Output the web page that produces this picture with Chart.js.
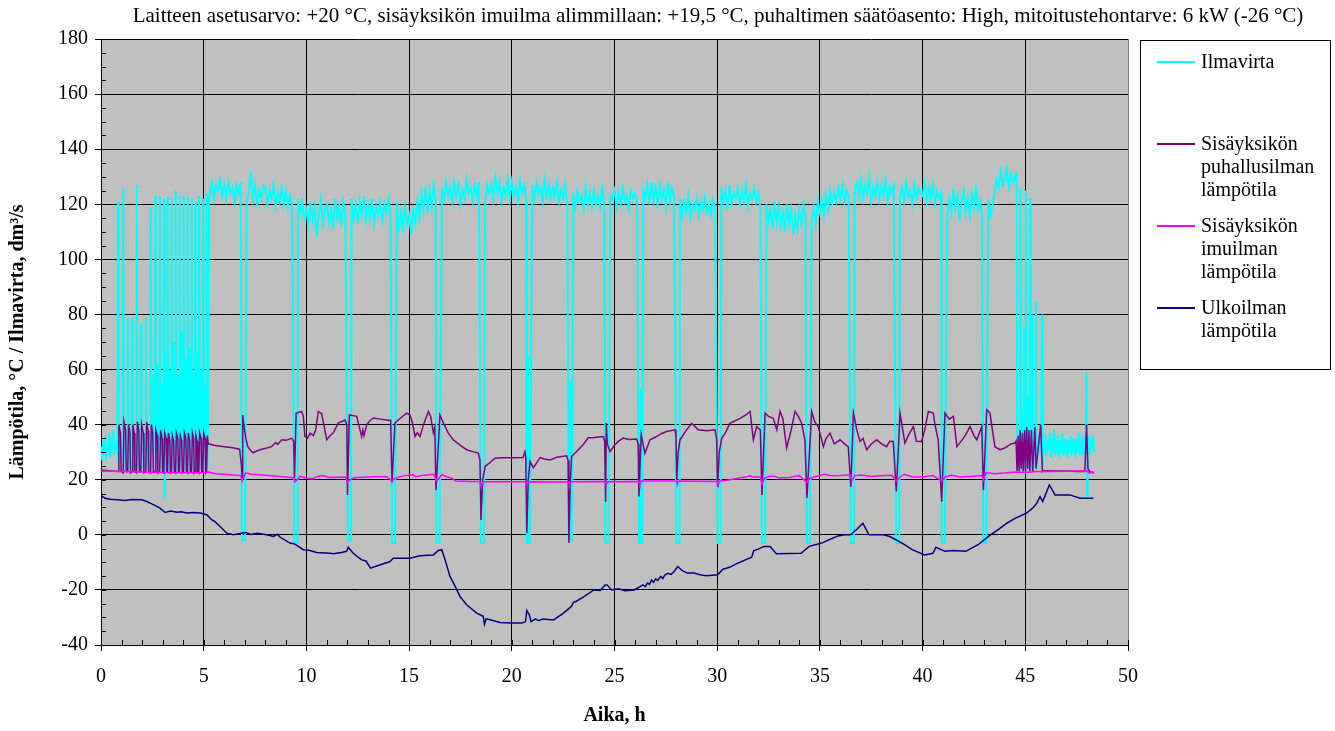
<!DOCTYPE html>
<html lang="fi">
<head>
<meta charset="utf-8">
<title>Ilmavirta ja lämpötilat</title>
<script src="https://cdn.jsdelivr.net/npm/chart.js@4.4.1/dist/chart.umd.min.js"></script>
<style>
  html, body { margin: 0; padding: 0; background: #fff; }
  #wrap { position: relative; width: 1335px; height: 731px; }
  #otsikko { position: absolute; left: 101px; width: 1234px; top: 3px; text-align: center;
             font: 21px "Times New Roman", "Liberation Serif", serif; white-space: nowrap; }
  #selite { position: absolute; left: 1140px; top: 40px; width: 191px; height: 330px;
            border: 1px solid #000; box-sizing: border-box; font: 20px "Times New Roman", "Liberation Serif", serif; }
  .rivi { position: absolute; left: 0; width: 100%; }
  .rivi i { position: absolute; left: 16px; top: 11px; width: 38px; height: 0; border-top: 2px solid; }
  .rivi span { position: absolute; left: 60px; top: 0; line-height: 23px; white-space: pre; }
</style>
</head>
<body>
<div id="wrap">
  <canvas id="kaavio"></canvas>
  <div id="otsikko"></div>
  <div id="selite"></div>
</div>
<script>
// Otsikko ja sarjojen nimet
const otsikko = 'Laitteen asetusarvo: +20 °C, sisäyksikön imuilma alimmillaan: +19,5 °C, puhaltimen säätöasento: High, mitoitustehontarve: 6 kW (-26 °C)';
const sarjaNimet = ['Ilmavirta', 'Sisäyksikön\npuhallusilman\nlämpötila', 'Sisäyksikön\nimuilman\nlämpötila', 'Ulkoilman\nlämpötila'];

// Ilmavirta, alku ja tahdistettu käynti (h, dm3/s)
const ilmavirtaAlku = [
  [0,32],[0.05,27],[0.1,34],[0.15,29],[0.2,36],[0.25,27],[0.3,33],[0.35,30],[0.4,37],[0.45,28],[0.5,35],[0.55,31],
  [0.6,38],[0.65,29],[0.7,34],[0.75,31],
  [0.8,30],[0.83,121],[0.86,24],[0.95,31],[1.0,28],[1.06,33],[1.09,126],[1.12,23],[1.2,30],[1.28,33],[1.31,79],[1.34,24],
  [1.42,31],[1.49,34],[1.52,79],[1.55,23],[1.64,32],[1.71,30],[1.74,127],[1.77,24],[1.86,33],[1.92,31],[1.95,77],[1.98,23],
  [2.08,32],[2.16,34],[2.19,79],[2.22,24],[2.3,33],[2.39,31],[2.42,119],[2.45,23],[2.53,58],[2.56,30],[2.61,35],[2.64,123],
  [2.67,22],[2.75,62],[2.78,31],[2.84,34],[2.87,123],[2.9,24],[2.97,55],[3.0,30],[3.04,33],[3.07,122],[3.1,13],[3.13,30],
  [3.16,66],[3.19,32],[3.22,34],[3.25,123],[3.28,23],[3.34,60],[3.37,31],[3.41,35],[3.44,122],[3.47,24],[3.53,70],[3.56,30],
  [3.61,34],[3.64,125],[3.67,22],[3.73,58],[3.76,32],[3.8,33],[3.83,123],[3.86,24],[3.93,74],[3.96,31],[4.0,35],[4.03,123],
  [4.06,23],[4.12,64],[4.15,30],[4.19,34],[4.22,123],[4.25,22],[4.32,68],[4.35,31],[4.39,33],[4.42,122],[4.45,24],[4.5,57],
  [4.53,32],[4.56,35],[4.59,121],[4.62,23],[4.68,66],[4.71,30],[4.74,34],[4.77,123],[4.8,24],[4.87,60],[4.9,31],[4.94,33],
  [4.97,122],[5.0,23],[5.06,54],[5.09,32],[5.12,35],[5.15,124],[5.18,25],[5.22,36],[5.26,123]
];

// Ilmavirta tasaisessa käynnissä, 0,1 h välein, rivi = tunti alkaen tunnista 5
const ilmavirtaAlkutunti = 5;
const ilmavirtaRivit = [
  [null,null,null,124,128,122,127,125,129,123],
  [127,122,128,124,126,121,127,124,128,125],
  [126,121,125,132,122,127,120,125,122,127],
  [126,120,125,122,127,119,124,121,126,120],
  [125,119,123,120,126,118,122,117,121,115],
  [118,112,121,114,119,108,116,122,113,118],
  [120,113,118,111,122,115,119,112,121,116],
  [119,114,122,115,120,113,121,116,123,114],
  [120,115,122,113,119,116,121,114,120,117],
  [122,116,120,114,121,110,117,111,119,113],
  [116,109,119,113,121,115,124,118,126,117],
  [125,119,127,121,124,120,126,122,128,123],
  [126,121,128,123,127,120,125,122,129,124],
  [126,121,127,123,128,122,126,120,127,124],
  [127,122,130,124,128,121,126,123,129,122],
  [128,123,126,121,129,124,127,122,126,123],
  [127,122,128,124,126,121,129,123,127,122],
  [126,123,128,121,125,122,127,120,124,121],
  [124,119,125,121,123,118,126,120,124,119],
  [125,120,123,119,126,121,124,120,123,122],
  [125,119,124,120,126,121,123,118,125,122],
  [124,121,126,119,125,122,127,120,128,121],
  [126,120,127,122,125,119,128,121,126,123],
  [124,118,122,116,121,117,123,115,120,118],
  [122,116,121,118,123,117,120,116,122,119],
  [124,119,126,121,125,118,127,120,124,122],
  [126,120,125,121,127,119,124,122,126,121],
  [124,119,117,112,120,114,118,111,121,113],
  [119,112,117,110,120,113,118,109,116,111],
  [118,113,120,115,111,118,114,119,113,121],
  [117,122,116,123,118,125,120,124,121,126],
  [122,127,121,125,123,127,121,126,128,123],
  [129,122,127,124,130,121,126,123,128,122],
  [127,123,129,121,126,124,128,122,127,123],
  [126,121,128,123,125,120,127,122,126,124],
  [123,128,121,126,122,127,120,125,122,124],
  [118,124,115,122,117,126,119,123,114,121],
  [125,117,122,116,124,119,127,118,121,116],
  [120,114,122,116,119,124,129,126,132,127],
  [129,133,126,131,128,130,null,null,null,null]
];

// Sulatukset: alkuaika (h), ilmavirran pohja ja mahdollinen välipiikki
const sulatusKesto = 0.15;
const sulatusAjat = [6.86, 9.42, 12.02, 14.17, 16.34, 18.5, 20.73, 22.78, 24.55, 26.2, 28.02, 30.02, 32.18, 34.37, 36.51, 38.71, 40.93, 42.95];
const sulatusPohjat = [-2, -3, -2, -3, -3, -3, -3, -2, -3, -3, -3, -3, -3, -3, -3, -3, -3, -3];
const sulatusValipiikit = [null, null, null, null, null, null, 65, 56, null, 53, null, null, null, null, null, null, null, null];

// Ilmavirta lopussa
const ilmavirtaLoppu = [
  [44.55,128],[44.58,132],[44.61,24],[44.68,35],[44.71,31],[44.74,80],[44.75,34],[44.77,126],[44.8,23],[44.86,45],
  [44.89,30],[44.92,34],[44.94,75],[44.97,24],[45.0,34],[45.03,125],[45.06,22],[45.12,50],[45.15,31],[45.2,33],
  [45.23,122],[45.26,24],[45.3,35],[45.36,80],[45.39,23],[45.46,37],[45.49,31],[45.52,85],[45.55,24],[45.65,34],
  [45.75,30],[45.83,80],[45.86,25],[45.9,33],
  [45.95,30],[46.0,36],[46.05,29],[46.1,34],[46.15,31],[46.2,37],[46.25,28],[46.3,35],[46.35,30],[46.4,38],[46.45,29],
  [46.5,33],[46.55,31],[46.6,36],[46.65,28],[46.7,34],[46.75,30],[46.8,37],[46.85,29],[46.9,33],[46.95,31],[47.0,35],
  [47.05,28],[47.1,34],[47.15,30],[47.2,36],[47.25,29],[47.3,33],[47.35,31],[47.4,35],[47.45,28],[47.5,34],[47.55,30],
  [47.6,37],[47.65,29],[47.7,33],[47.75,31],[47.8,36],[47.85,29],[47.9,34],[47.95,32],[47.98,59],[48.01,13],[48.04,31],
  [48.1,36],[48.15,29],[48.2,35],[48.25,31],[48.3,36],[48.35,30]
];

// Sisäyksikön puhallusilman lämpötila (h, °C)
const puhallusilma = [
  [0,23.5],[0.8,23],
  [0.83,23],[0.87,40],[0.95,37],[0.98,23],[1.08,22.5],[1.12,41],[1.2,38],[1.23,23],[1.3,23],[1.34,40],[1.41,37],[1.44,22.5],
  [1.51,23],[1.55,40],[1.62,37],[1.65,23],[1.73,22.5],[1.77,41],[1.84,38],[1.87,23],[1.94,23],[1.98,40],[2.06,37],[2.09,22.5],
  [2.18,23],[2.22,41],[2.29,38],[2.32,23],[2.41,22.5],[2.45,40],[2.52,37],[2.55,23],[2.63,23],[2.67,38],[2.74,36],[2.77,22.5],
  [2.86,23],[2.9,38],[2.97,35],[3.0,23],[3.06,22.5],[3.1,37],[3.17,35],[3.2,23],[3.24,23],[3.28,37],[3.35,34],[3.38,22.5],
  [3.43,23],[3.47,36],[3.54,34],[3.57,23],[3.63,22.5],[3.67,37],[3.74,35],[3.77,23],[3.82,23],[3.86,36],[3.93,34],[3.96,22.5],
  [4.02,23],[4.06,37],[4.13,35],[4.16,23],[4.21,22.5],[4.25,37],[4.32,34],[4.35,23],[4.41,23],[4.45,37],[4.51,35],[4.54,22.5],
  [4.58,23],[4.62,36],[4.68,34],[4.71,23],[4.76,22.5],[4.8,37],[4.87,35],[4.9,23],[4.96,23],[5.0,37],[5.07,35],[5.1,22.5],
  [5.14,23],[5.18,36],[5.22,33],
  [5.28,33],[5.5,32.5],[6.0,32],[6.5,31.5],[6.75,31],[6.84,25],[6.87,20.5],[6.9,43.5],[6.95,40],[7.05,35],[7.15,32],[7.25,31],
  [7.4,29.8],[7.6,30.5],[7.8,31],[8.07,31.5],[8.3,32],[8.5,33.5],[8.6,32.8],[8.8,34.5],[9.0,34.3],[9.28,35],[9.38,34],[9.42,20],
  [9.5,44.2],[9.77,44.8],[9.85,43],[9.93,35.7],[10.05,35],[10.18,36.9],[10.34,36],[10.45,38],[10.58,44.8],[10.74,44],[10.85,40],
  [10.99,34.5],[11.15,36],[11.31,37],[11.55,40.6],[11.88,41.7],[11.97,40],[12.0,14.5],[12.09,43.5],[12.45,43],[12.55,40],
  [12.69,35.7],[12.75,38],[12.8,36],[12.94,40],[13.1,41.5],[13.26,42.4],[13.6,42],[13.91,41.7],[14.1,41.5],[14.17,18.9],
  [14.31,40.6],[14.6,42.5],[14.88,44.2],[15.04,43.5],[15.15,41],[15.29,35.7],[15.4,37],[15.53,35.7],[15.7,40],[15.94,44.8],
  [16.05,43],[16.18,37],[16.25,39],[16.31,16.3],[16.5,43.5],[16.67,40.6],[16.9,37],[17.15,34.5],[17.5,32.5],[17.8,30.9],
  [18.1,30.2],[18.37,29.7],[18.45,27],[18.5,5.4],[18.58,20],[18.7,24.8],[18.9,26],[19.18,27.8],[19.5,28],[20.0,28],
  [20.55,28.1],[20.64,30.2],[20.68,28],[20.73,0.7],[20.8,20],[20.89,26.6],[21.05,24.3],[21.2,26],[21.37,28],[21.6,27.5],
  [21.86,27.2],[22.2,28.2],[22.67,28.7],[22.74,27],[22.78,-3],[22.84,18],[22.91,28.4],[23.24,30.9],[23.5,33],[23.72,35.2],
  [23.97,35.2],[24.2,35.5],[24.45,35.7],[24.52,34],[24.57,12],[24.6,40.6],[24.65,33],[24.78,30.2],[25.02,32.7],[25.2,34],
  [25.43,35.1],[25.7,34.6],[26.08,34.8],[26.15,33],[26.19,13.9],[26.3,36.3],[26.48,29.6],[26.73,34.5],[27.0,35.5],[27.3,36.8],
  [27.54,37.5],[27.95,38.1],[27.99,36],[28.03,20],[28.1,30],[28.19,34.5],[28.5,38],[28.76,40.5],[29.08,38.1],[29.5,37.8],
  [29.89,38.1],[29.97,35],[30.02,17.5],[30.1,30],[30.22,35.1],[30.4,37],[30.62,40.5],[31.11,42.3],[31.4,43.5],[31.6,44.8],
  [31.76,34.5],[31.92,39.3],[32.1,38],[32.18,14.5],[32.33,44.2],[32.5,43],[32.73,42.3],[32.9,38.1],[33.06,44.8],[33.2,42],
  [33.38,31.5],[33.6,38],[33.79,44.8],[33.95,43],[34.11,40.5],[34.27,34.5],[34.37,13.4],[34.6,44.8],[34.75,41],[34.92,39.3],
  [35.17,32],[35.3,35],[35.49,36.9],[35.7,33],[35.98,34.5],[36.2,33],[36.38,32],[36.51,17.5],[36.63,44.2],[36.8,38],
  [36.95,33.9],[37.1,35],[37.28,30.9],[37.5,33],[37.77,34.5],[38.0,33],[38.25,32],[38.4,34],[38.57,33.9],[38.72,15.7],
  [38.9,44.2],[39.14,33.3],[39.3,36],[39.55,39.3],[39.7,34],[39.95,33.9],[40.1,38],[40.28,44.8],[40.52,44.2],[40.6,40],
  [40.76,34.5],[40.93,12.1],[41.09,44.2],[41.3,42],[41.5,43],[41.67,32],[41.99,35.1],[42.15,37],[42.31,39.3],[42.5,36],
  [42.64,34.5],[42.88,39.3],[42.96,16.3],[43.12,45.4],[43.28,44.2],[43.4,38],[43.52,32],[43.77,30.9],[44.0,31.5],[44.3,33],
  [44.5,33.3],[44.55,34],[44.6,23],[44.65,36],[44.7,23],[44.75,38],[44.8,24],[44.86,37],[44.9,23],[44.97,38],[45.01,23],
  [45.07,39],[45.12,24],[45.18,38],[45.22,23],[45.3,38],[45.36,23],[45.47,39],[45.52,24],[45.75,40],[45.83,23],[45.9,23.3],
  [46.5,23.2],[47.0,23.2],[47.5,23],[47.9,23],[47.98,40],[48.05,24],[48.15,22.8],[48.35,22.5]
];

// Sisäyksikön imuilman lämpötila (h, °C)
const imuilma = [
  [0,23.2],[1,23],[2,22.8],[3,22.6],[4,22.5],[5,22.5],[5.25,22.8],[5.6,22.2],[6.3,21.8],[6.8,21.5],[6.87,19.5],[6.92,20.5],
  [7.05,22.5],[7.3,22],[8,21.6],[9,21],[9.38,20.7],[9.44,19.2],[9.55,20],[9.7,21.2],[10.0,20.6],[10.3,20.4],[10.6,21.3],
  [10.8,21.5],[11.1,20.8],[11.9,21],[12.0,19],[12.1,19.8],[12.3,20.7],[13,21],[13.9,21.2],[14.17,19.5],[14.3,20.5],[14.7,21.4],
  [15.2,21.8],[15.3,21.1],[15.7,21.6],[16.2,22],[16.34,19.5],[16.45,20.5],[16.6,21.8],[16.85,21],[17.1,20.5],[17.25,19.5],
  [18,19.4],[18.45,19.4],[18.5,17.5],[18.6,19.3],[20.7,19.3],[20.75,18],[20.8,19.3],[22.78,19.2],[22.8,17.6],[22.85,19.3],
  [24.55,19.4],[24.6,18],[24.65,19.3],[26.2,19.4],[26.24,18.3],[26.3,19.5],[28.02,19.5],[28.06,18.3],[28.1,19.5],[30.0,19.4],
  [30.05,17.8],[30.1,19.5],[30.5,19.8],[31.0,20.5],[31.5,21.2],[31.6,21.5],[31.7,21],[32.1,21],[32.18,18.5],[32.3,20.5],
  [32.5,21.2],[32.8,21.3],[33.0,20.6],[33.5,20.8],[34.0,21.5],[34.37,19],[34.5,20.5],[34.8,21.2],[35.2,22],[35.6,21.4],[36,21.5],
  [36.5,21.8],[36.55,19.5],[36.7,21.5],[37,21.7],[37.5,21.2],[38,21.4],[38.5,21.6],[38.72,19.5],[38.9,21],[39.1,22],[39.5,21],
  [40,21],[40.5,21.5],[40.93,19.5],[41.1,21],[41.4,21.6],[41.8,21],[42.3,21.2],[42.9,21.5],[42.96,19.8],[43.1,22.6],[43.5,22.2],
  [44,22.4],[44.5,22.8],[45,22.6],[45.5,23],[46,23],[47,23.1],[48,23.3],[48.1,22.5],[48.35,22.8]
];

// Ulkoilman lämpötila (h, °C)
const ulkoilma = [
  [0,14.2],[0.2,13.3],[0.44,12.9],[0.8,12.7],[1.17,12.5],[1.5,12.8],[1.98,12.7],[2.2,12.2],[2.39,11.5],[2.6,10.8],[2.87,9.7],
  [3.12,8.1],[3.4,8.6],[3.68,8.2],[3.9,8.4],[4.17,7.9],[4.5,8.1],[4.82,7.9],[5.15,7.3],[5.4,5.4],[5.55,4.8],[5.8,3],[6.12,0.6],
  [6.44,0],[6.7,0.4],[7.04,0.8],[7.3,0.1],[7.6,0.6],[8.07,0],[8.39,-0.6],[8.6,0.2],[8.71,-0.8],[9.2,-3],[9.43,-3.3],[9.85,-5.4],
  [10.08,-5.5],[10.5,-6.4],[11.16,-6.7],[11.31,-6.9],[11.7,-6.4],[11.96,-6],[12.04,-4.5],[12.28,-6.7],[12.69,-9.1],[12.9,-9.5],
  [13.12,-12.1],[13.42,-11.3],[14.07,-9.7],[14.23,-8.5],[15.04,-8.5],[15.53,-7.6],[16.18,-7.3],[16.42,-5.7],[16.59,-5.4],
  [16.75,-9],[16.99,-15.1],[17.25,-18.8],[17.48,-22.4],[17.8,-25.4],[18.29,-28.4],[18.61,-29.6],[18.67,-32.5],[18.75,-30.5],
  [18.99,-30.9],[19.43,-31.8],[20.0,-32],[20.5,-32],[20.67,-31.5],[20.73,-27.5],[20.85,-29],[20.94,-31.5],[21.16,-30.5],
  [21.3,-31.2],[21.5,-30.6],[22.03,-30.9],[22.5,-28.5],[22.9,-26],[23.0,-24.5],[23.12,-24.2],[23.5,-22.5],[23.99,-20],
  [24.3,-20.2],[24.55,-18.2],[24.64,-18.2],[24.86,-20],[25.2,-19.6],[25.5,-20.3],[25.95,-20],[26.2,-19],[26.38,-18.2],
  [26.5,-18.8],[26.6,-17.5],[26.7,-18],[26.8,-16.4],[26.9,-17.2],[27.0,-16],[27.1,-16.6],[27.25,-15.1],[27.35,-15.9],
  [27.45,-14.6],[27.6,-14],[27.75,-14.4],[27.9,-13.3],[28.08,-11.5],[28.3,-13],[28.55,-13.9],[28.87,-13.9],[29.16,-14.5],
  [29.48,-14.9],[30.02,-14.5],[30.28,-12.5],[30.6,-11.8],[31.0,-10.3],[31.4,-9],[31.68,-8.1],[31.78,-5.7],[32.0,-5.2],
  [32.28,-4.2],[32.57,-4.2],[32.88,-6.9],[33.5,-6.8],[34.08,-6.7],[34.48,-4.2],[35.09,-3],[35.5,-1.6],[35.88,-0.4],[36.2,0],
  [36.49,0],[36.8,2],[37.09,4.2],[37.39,0],[38.09,0],[38.4,-0.6],[38.7,-1.8],[39.1,-3.5],[39.49,-5.4],[40.1,-7.3],[40.5,-6.7],
  [40.65,-4.5],[41.09,-6],[41.5,-5.7],[42.1,-6],[42.7,-3.6],[43.3,0],[43.7,2],[44.1,4.2],[44.5,6],[45.07,7.9],[45.4,10],
  [45.56,11.5],[45.72,13.9],[45.85,12.1],[46.17,18.1],[46.45,14.5],[47.18,14.5],[47.66,13.3],[48.31,13.3]
];

// Ilmavirran pisteet: alku, tasainen käynti sulatuskuoppineen, loppu
function ilmavirtaPisteet() {
  const tasainen = [];
  ilmavirtaRivit.forEach((rivi, k) => rivi.forEach((v, j) => {
    if (v !== null) tasainen.push([ilmavirtaAlkutunti + k + j / 10, v]);
  }));
  const jaljelle = tasainen.filter(([t]) =>
    !sulatusAjat.some(s => t >= s - 0.02 && t <= s + sulatusKesto + 0.02));
  const kuopat = [];
  sulatusAjat.forEach((s, i) => {
    const pohja = sulatusPohjat[i];
    kuopat.push([s, pohja]);
    if (sulatusValipiikit[i] !== null) {
      kuopat.push([s + sulatusKesto * 0.45, pohja], [s + sulatusKesto * 0.5, sulatusValipiikit[i]], [s + sulatusKesto * 0.55, pohja]);
    }
    kuopat.push([s + sulatusKesto, pohja]);
  });
  return ilmavirtaAlku.concat(jaljelle, kuopat, ilmavirtaLoppu).sort((a, b) => a[0] - b[0]);
}

// Harmaa piirtoalue
const tausta = {
  id: 'tausta',
  beforeDraw(chart) {
    const { ctx, chartArea: a } = chart;
    ctx.save();
    ctx.fillStyle = '#c0c0c0';
    ctx.fillRect(a.left, a.top, a.right - a.left, a.bottom - a.top);
    ctx.restore();
  }
};

// Apujaot akseleille
const apujaot = {
  id: 'apujaot',
  afterDraw(chart) {
    const { ctx, chartArea: a, scales: { x, y } } = chart;
    ctx.save();
    ctx.strokeStyle = '#000';
    ctx.lineWidth = 1;
    ctx.beginPath();
    for (let v = y.min; v <= y.max; v += 5) {
      const py = Math.round(y.getPixelForValue(v)) + 0.5;
      ctx.moveTo(a.left, py);
      ctx.lineTo(a.left + 5, py);
    }
    for (let h = x.min; h <= x.max; h += 1) {
      const px = Math.round(x.getPixelForValue(h)) + 0.5;
      ctx.moveTo(px, a.bottom);
      ctx.lineTo(px, a.bottom - 5);
    }
    ctx.stroke();
    ctx.restore();
  }
};

const sarjat = [
  { data: ilmavirtaPisteet(), color: '#00ffff', width: 2, order: 4 },
  { data: puhallusilma, color: '#800080', width: 1.5, order: 3 },
  { data: imuilma, color: '#ff00ff', width: 1.5, order: 2 },
  { data: ulkoilma, color: '#000080', width: 1.5, order: 1 }
];

const fontti = "'Times New Roman', 'Liberation Serif', serif";

new Chart(document.getElementById('kaavio'), {
  type: 'line',
  data: {
    datasets: sarjat.map((s, i) => ({
      label: sarjaNimet[i].replace(/\n/g, ' '),
      data: s.data,
      borderColor: s.color,
      borderWidth: s.width,
      pointRadius: 0,
      tension: 0,
      fill: false,
      order: s.order
    }))
  },
  options: {
    responsive: true,
    maintainAspectRatio: false,
    animation: false,
    events: [],
    layout: { padding: { top: 39, right: 207, left: 0, bottom: 0 } },
    plugins: { legend: { display: false }, tooltip: { enabled: false }, title: { display: false } },
    scales: {
      x: {
        type: 'linear',
        min: 0, max: 50,
        afterFit(s) { s.height = 86; },
        ticks: { stepSize: 5, color: '#000', padding: 14, font: { family: fontti, size: 20 } },
        grid: { color: ctx => (ctx.tick && ctx.tick.value === 50 ? '#808080' : '#000'), lineWidth: 1, tickLength: 6, tickColor: '#000' },
        border: { color: '#000', width: 1 },
        title: { display: true, text: 'Aika, h', color: '#000', padding: { top: 0, bottom: 3 },
                 font: { family: fontti, size: 20, weight: 'bold' } }
      },
      y: {
        min: -40, max: 180,
        afterFit(s) { s.width = 101; },
        ticks: { stepSize: 20, color: '#000', padding: 7, font: { family: fontti, size: 20 } },
        grid: { color: '#000', lineWidth: 1, tickLength: 6, tickColor: '#000' },
        border: { color: '#000', width: 1 },
        title: { display: true, text: 'Lämpötila, °C / Ilmavirta, dm³/s', color: '#000', padding: { top: 6, bottom: 0 },
                 font: { family: fontti, size: 20, weight: 'bold' } }
      }
    }
  },
  plugins: [tausta, apujaot]
});

// Otsikko ja selite tekstinä
document.getElementById('otsikko').textContent = otsikko;
const selitePaikat = [9, 91, 173, 255];
const selite = document.getElementById('selite');
sarjat.forEach((s, i) => {
  const rivi = document.createElement('div');
  rivi.className = 'rivi';
  rivi.style.top = selitePaikat[i] + 'px';
  const viiva = document.createElement('i');
  viiva.style.borderTopColor = s.color;
  const teksti = document.createElement('span');
  teksti.textContent = sarjaNimet[i];
  rivi.appendChild(viiva);
  rivi.appendChild(teksti);
  selite.appendChild(rivi);
});
</script>
</body>
</html>
